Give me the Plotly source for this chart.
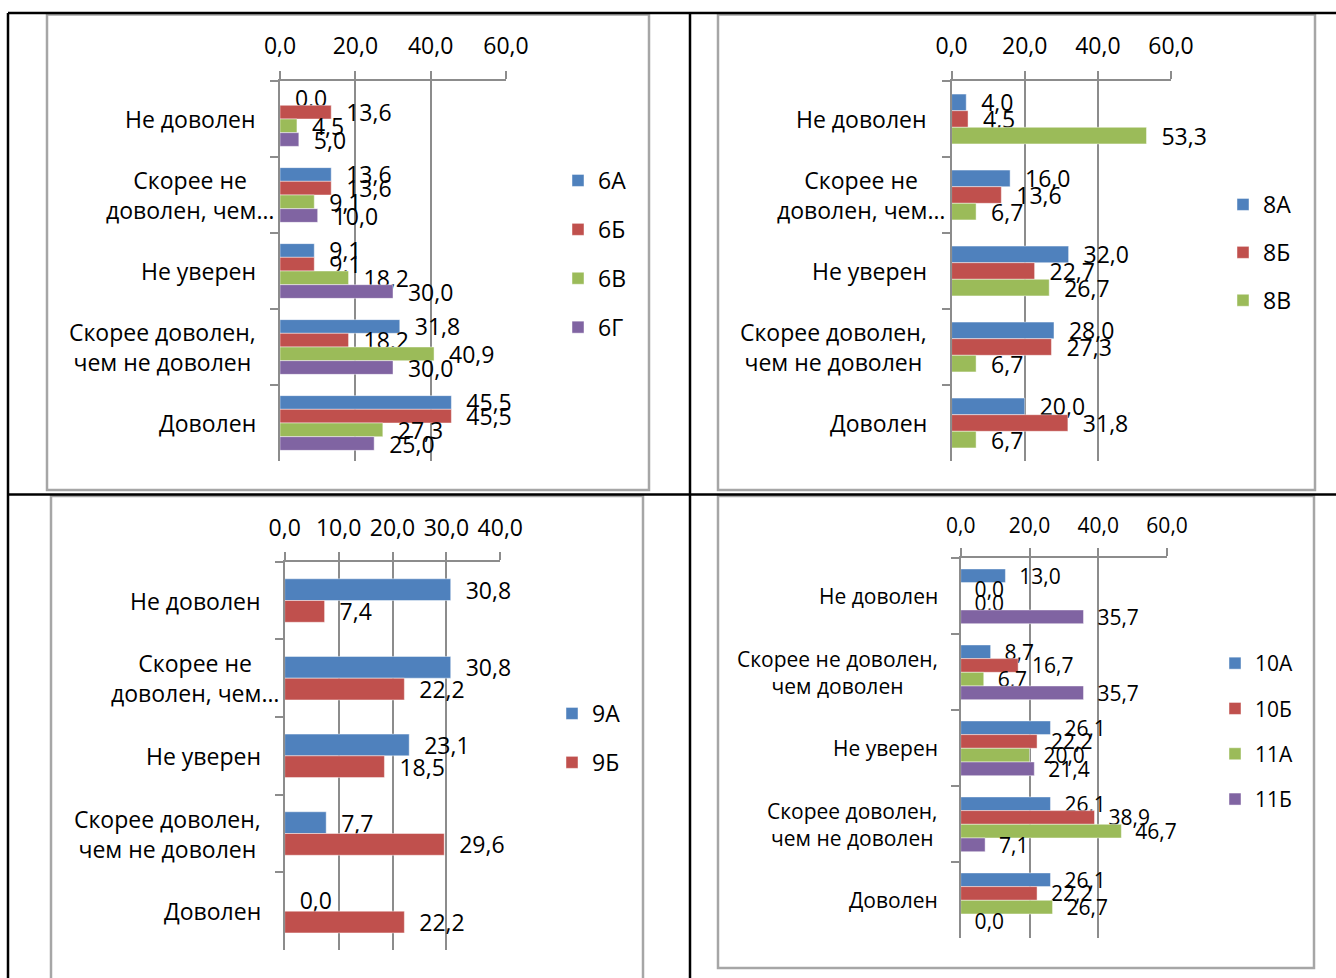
import plotly.graph_objects as go

W, H = 1336, 978
FONT = "Open Sans"

# ---------------- data ----------------
cats_a = ["Не доволен", "Скорее не<br>доволен, чем…", "Не уверен",
          "Скорее доволен,<br>чем не доволен", "Доволен"]
cats_b = ["Не доволен", "Скорее не доволен,<br>чем доволен", "Не уверен",
          "Скорее доволен,<br>чем не доволен", "Доволен"]

names_6 = ["6А", "6Б", "6В", "6Г"]
v_6a = [0.0, 13.6, 9.1, 31.8, 45.5]
v_6b = [13.6, 13.6, 9.1, 18.2, 45.5]
v_6v = [4.5, 9.1, 18.2, 40.9, 27.3]
v_6g = [5.0, 10.0, 30.0, 30.0, 25.0]

names_8 = ["8А", "8Б", "8В"]
v_8a = [4.0, 16.0, 32.0, 28.0, 20.0]
v_8b = [4.5, 13.6, 22.7, 27.3, 31.8]
v_8v = [53.3, 6.7, 26.7, 6.7, 6.7]

names_9 = ["9А", "9Б"]
v_9a = [30.8, 30.8, 23.1, 7.7, 0.0]
v_9b = [7.4, 22.2, 18.5, 29.6, 22.2]

names_1011 = ["10А", "10Б", "11А", "11Б"]
v_10a = [13.0, 8.7, 26.1, 26.1, 26.1]
v_10b = [0.0, 16.7, 22.2, 38.9, 22.2]
v_11a = [0.0, 6.7, 20.0, 46.7, 26.7]
v_11b = [35.7, 35.7, 21.4, 7.1, 0.0]

COLORS = ["#4F81BD", "#C0504D", "#9BBB59", "#8064A2"]
GRID = "#8C8C8C"


def px(x):
    return x / W


def py(y):
    return 1 - y / H


charts = [
    dict(cats=cats_a, names=names_6, values=[v_6a, v_6b, v_6v, v_6g],
         xrange=[0, 60], dtick=20, box=(280, 506, 81, 461), fs=23,
         leg=(558, 159), leggap=16, gap=0.28, standoff=8, lblgap=22),
    dict(cats=cats_a, names=names_8, values=[v_8a, v_8b, v_8v],
         xrange=[0, 60], dtick=20, box=(951.6, 1171, 81, 461), fs=23,
         leg=(1223, 183), leggap=15, gap=0.345, standoff=8, lblgap=23),
    dict(cats=cats_a, names=names_9, values=[v_9a, v_9b],
         xrange=[0, 40], dtick=10, box=(284.7, 500.3, 561.7, 950), fs=23,
         leg=(552, 692), leggap=16, gap=0.44, standoff=7, lblgap=22),
    dict(cats=cats_b, names=names_1011, values=[v_10a, v_10b, v_11a, v_11b],
         xrange=[0, 60], dtick=20, box=(960.7, 1167.1, 558.3, 938.3), fs=21,
         leg=(1215, 643), leggap=15, gap=0.28, standoff=7, lblgap=21),
]

fig = go.Figure()
layout = dict(
    width=W, height=H,
    margin=dict(l=0, r=0, t=0, b=0, pad=0, autoexpand=False),
    paper_bgcolor="white", plot_bgcolor="white",
    separators=", ", barmode="overlay", showlegend=True,
    font=dict(family=FONT, color="black", size=22),
)
annotations = []

for k, ch in enumerate(charts, start=1):
    sfx = "" if k == 1 else str(k)
    xa, ya = "x" + sfx, "y" + sfx
    legname = "legend" + sfx
    x0, x1, yt, yb = ch["box"]
    n = len(ch["values"])
    span = 1 - ch["gap"]
    w = span / n
    for i, (name, vals) in enumerate(zip(ch["names"], ch["values"])):
        fig.add_trace(go.Bar(
            y=ch["cats"], x=vals, orientation="h", name=name,
            xaxis=xa, yaxis=ya, legend=legname, legendgroup=f"g{k}_{i}",
            width=w, offset=-span / 2 + i * w,
            marker=dict(color=COLORS[i],
                        line=dict(color="rgba(255,255,255,0.45)", width=1)),
            texttemplate="\u00a0\u00a0%{x:.1f}", textposition="outside",
            textfont=dict(family=FONT, size=ch["fs"], color="black"),
            constraintext="none", cliponaxis=False, hoverinfo="skip",
        ))
    layout["xaxis" + sfx] = dict(
        domain=[px(x0), px(x1)], anchor=ya, side="top",
        range=ch["xrange"], dtick=ch["dtick"], tick0=0, tickformat=".1f",
        ticks="outside", ticklen=8, tickwidth=2, tickcolor=GRID,
        showgrid=True, gridcolor=GRID, gridwidth=2,
        showline=True, linecolor=GRID, linewidth=2, zeroline=False,
        tickfont=dict(family=FONT, size=ch["fs"], color="black"),
        ticklabelstandoff=ch["standoff"], fixedrange=True, automargin=False,
    )
    layout["yaxis" + sfx] = dict(
        domain=[py(yb), py(yt)], anchor=xa, type="category",
        categoryorder="array", categoryarray=ch["cats"],
        range=[len(ch["cats"]) - 0.5, -0.5],
        ticks="outside", ticklen=8, tickwidth=2, tickcolor=GRID,
        tickson="boundaries", showticklabels=False,
        showgrid=False, showline=True, linecolor=GRID, linewidth=2,
        zeroline=False, fixedrange=True, automargin=False,
    )
    layout[legname] = dict(
        x=px(ch["leg"][0]), y=py(ch["leg"][1]), xanchor="left", yanchor="top",
        orientation="v", traceorder="grouped", tracegroupgap=ch["leggap"],
        bgcolor="rgba(0,0,0,0)", borderwidth=0,
        font=dict(family=FONT, size=ch["fs"], color="black"),
    )
    for c in ch["cats"]:
        annotations.append(dict(
            xref="paper", yref=ya, x=px(x0 - ch["lblgap"]), y=c, text=c,
            xanchor="right", yanchor="middle", align="center",
            showarrow=False, xshift=18 if c.endswith("…") else 0,
            font=dict(family=FONT, size=ch["fs"], color="black"),
        ))

shapes = []
# table lines (black)
for (xa0, ya0, xa1, ya1) in [(8, 13, 1336, 13), (8, 494.5, 1336, 494.5),
                             (8, 13, 8, 990), (690, 13, 690, 990)]:
    shapes.append(dict(type="line", xref="paper", yref="paper",
                       x0=px(xa0), y0=py(ya0), x1=px(xa1), y1=py(ya1),
                       line=dict(color="black", width=2.5)))
# chart borders (grey)
for (bx0, by0, bx1, by1) in [(47, 14.5, 649, 490), (718, 14.5, 1315, 490),
                             (51, 496, 643, 1000), (718, 496, 1314, 968)]:
    shapes.append(dict(type="rect", xref="paper", yref="paper",
                       x0=px(bx0), y0=py(by0), x1=px(bx1), y1=py(by1),
                       line=dict(color="#A6A6A6", width=2.5),
                       fillcolor="rgba(0,0,0,0)", layer="below"))

layout["annotations"] = annotations
layout["shapes"] = shapes
fig.update_layout(**layout)

fig.write_html("out.html", config={"displayModeBar": False},
               post_script="document.body.style.margin='0';")
